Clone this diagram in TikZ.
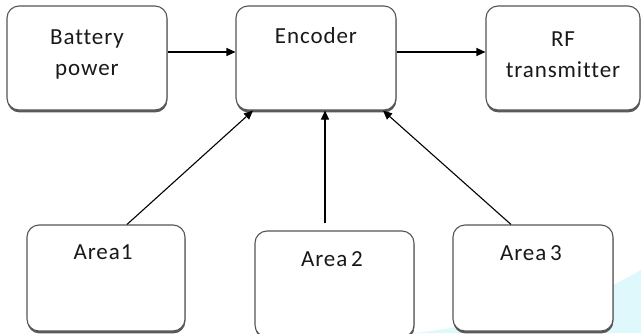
\documentclass[tikz,border=0pt]{standalone}
\usepackage{fontspec}
\setmainfont{Carlito}[LetterSpace=4, Ligatures=NoCommon]
\usetikzlibrary{arrows.meta, positioning, shadows}
\definecolor{edgegray}{RGB}{85,85,85}
\definecolor{swoosh}{RGB}{222,248,251}
\tikzset{
  blk/.style   = {draw=edgegray, line width=1.1pt, rounded corners=12pt, fill=white,
                  minimum width=160pt, minimum height=104pt, inner sep=0pt,
                  drop shadow={shadow xshift=0.4pt, shadow yshift=-2.4pt,
                               fill=black!65, opacity=1}},
  lbl/.style   = {align=center, font=\fontsize{23}{31}\selectfont, text=black!90,
                  inner sep=0pt},
  arrow/.style = {-{Triangle[length=9pt, width=8pt]}, line width=1.1pt, black},
}

\begin{document}
\begin{tikzpicture}[x=1pt, y=-1pt]
  \useasboundingbox (0,0) rectangle (641,333);
  % pale swoosh in the lower right corner
  \fill[swoosh] (415,333) .. controls (520,320) and (590,300) .. (641,270)
    -- (641,333) -- cycle;

  % top row
  \node[blk] (bat) at (87,58) {};
  \node[blk] (enc) at (316,58) {};
  \node[blk, minimum width=154pt] (rf) at (563,58) {};
  \node[lbl] at ([yshift=-49pt]bat.north) {Battery\\power};
  \node[lbl] at ([yshift=-30pt]enc.north) {Encoder};
  \node[lbl] at ([yshift=-49pt]rf.north) {RF\\transmitter};

  % sensing areas
  \node[blk, minimum width=158pt, minimum height=106pt] (a1) at (106,278) {};
  \node[blk, minimum width=159pt, minimum height=106pt] (a2) at (334.5,284) {};
  \node[blk, minimum height=106pt] (a3) at (533,278) {};
  \node[lbl] at ([xshift=-3pt, yshift=-28pt]a1.north) {Area1};
  \node[lbl] at ([xshift=-2.5pt, yshift=-29pt]a2.north) {Area\,2};
  \node[lbl] at ([xshift=-2pt, yshift=-29pt]a3.north) {Area\,3};

  % connections
  \draw[arrow] ([yshift=6pt]bat.east) -- ([yshift=6pt]enc.west);
  \draw[arrow] ([yshift=6pt]enc.east) -- ([yshift=6pt]rf.west);
  \draw[arrow] ([xshift=21pt]a1.north) -- ([xshift=-63pt]enc.south);
  \draw[arrow] ([xshift=-9.5pt, yshift=7pt]a2.north) -- ([xshift=9pt]enc.south);
  \draw[arrow] ([xshift=-22pt]a3.north) -- ([xshift=67pt]enc.south);
\end{tikzpicture}
\end{document}
